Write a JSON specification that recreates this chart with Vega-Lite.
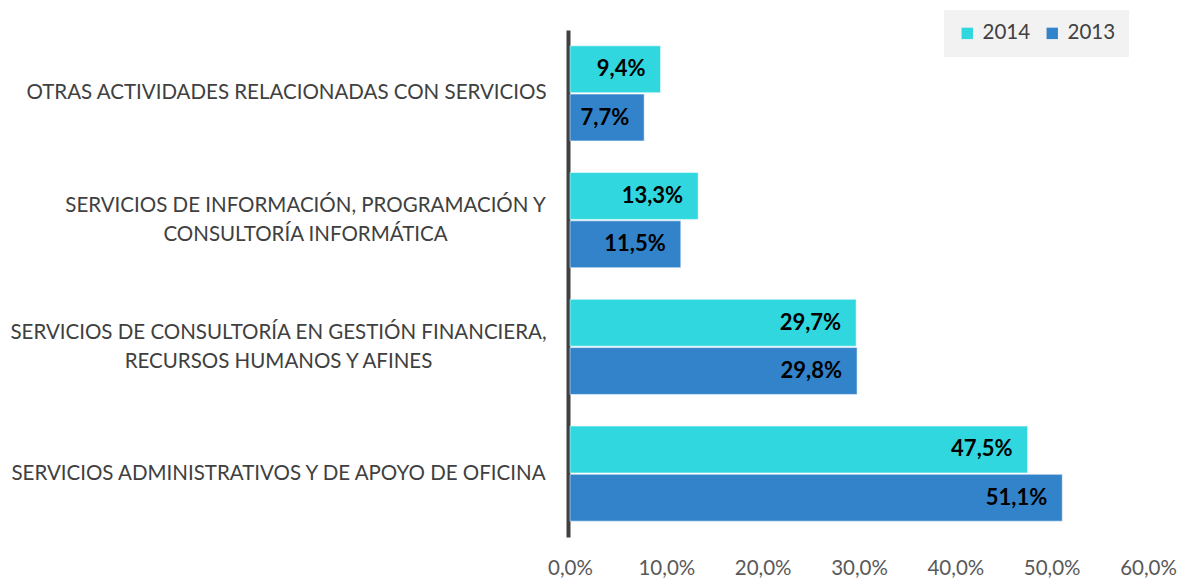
{
  "$schema": "https://vega.github.io/schema/vega-lite/v6.json",
  "width": 578,
  "height": 507,
  "autosize": {"type": "none"},
  "padding": {"left": 570, "top": 30, "right": 34, "bottom": 42},
  "background": "white",
  "config": {
    "locale": {"number": {"decimal": ",", "thousands": ".", "grouping": [3], "currency": ["", " €"]}},
    "view": {"stroke": null},
    "font": "Lato"
  },
  "data": {
    "values": [
      {"sector": "OTRAS ACTIVIDADES RELACIONADAS CON SERVICIOS", "year": "2014", "value": 0.094},
      {"sector": "OTRAS ACTIVIDADES RELACIONADAS CON SERVICIOS", "year": "2013", "value": 0.077},
      {"sector": "SERVICIOS DE INFORMACIÓN, PROGRAMACIÓN Y|CONSULTORÍA INFORMÁTICA", "year": "2014", "value": 0.133},
      {"sector": "SERVICIOS DE INFORMACIÓN, PROGRAMACIÓN Y|CONSULTORÍA INFORMÁTICA", "year": "2013", "value": 0.115},
      {"sector": "SERVICIOS DE CONSULTORÍA EN GESTIÓN FINANCIERA,|RECURSOS HUMANOS Y AFINES", "year": "2014", "value": 0.297},
      {"sector": "SERVICIOS DE CONSULTORÍA EN GESTIÓN FINANCIERA,|RECURSOS HUMANOS Y AFINES", "year": "2013", "value": 0.298},
      {"sector": "SERVICIOS ADMINISTRATIVOS Y DE APOYO DE OFICINA", "year": "2014", "value": 0.475},
      {"sector": "SERVICIOS ADMINISTRATIVOS Y DE APOYO DE OFICINA", "year": "2013", "value": 0.511}
    ]
  },
  "encoding": {
    "y": {
      "field": "sector",
      "type": "nominal",
      "sort": null,
      "title": null,
      "scale": {"paddingInner": 0.25, "paddingOuter": 0.125},
      "axis": {
        "labelExpr": "split(datum.label, '|')",
        "labelFontSize": 20.5,
        "labelColor": "#404040",
        "labelLimit": 600,
        "labelAlign": "center",
        "labelBaseline": "middle",
        "labelPadding": {
          "condition": [
            {"test": "test(/OTRAS/, datum.value)", "value": 282},
            {"test": "test(/INFORMACI/, datum.value)", "value": 263}
          ],
          "value": 290
        },
        "labelOffset": {
          "condition": {"test": "test(/[|]/, datum.value)", "value": -14},
          "value": 0
        },
        "labelLineHeight": 29,
        "ticks": false,
        "tickSize": 0,
        "domainColor": "#404040",
        "domainWidth": 4,
        "offset": 2,
        "grid": false
      }
    },
    "yOffset": {"field": "year", "type": "nominal", "sort": ["2014", "2013"], "scale": {"paddingInner": 0.03}},
    "x": {
      "field": "value",
      "type": "quantitative",
      "title": null,
      "scale": {"domain": [0, 0.6], "nice": false},
      "axis": {
        "format": ".1%",
        "values": [0, 0.1, 0.2, 0.3, 0.4, 0.5, 0.6],
        "grid": false,
        "domain": false,
        "ticks": false,
        "labelFontSize": 20.5,
        "labelColor": "#595959",
        "labelPadding": 21,
        "labelFlush": false
      }
    }
  },
  "layer": [
    {
      "mark": {"type": "bar", "stroke": "white", "strokeOpacity": 0.5, "strokeWidth": 1},
      "encoding": {
        "color": {
          "field": "year",
          "type": "nominal",
          "sort": ["2014", "2013"],
          "scale": {"domain": ["2014", "2013"], "range": ["#30d7df", "#3383cb"]},
          "legend": {
            "title": null,
            "orient": "none",
            "legendX": 374,
            "legendY": -20,
            "direction": "horizontal",
            "fillColor": "#f2f2f2",
            "padding": 13,
            "symbolType": "square",
            "symbolSize": 130,
            "symbolStrokeWidth": 0,
            "labelFontSize": 20.5,
            "labelColor": "#404040",
            "columnPadding": 11,
            "labelOffset": 5
          }
        }
      }
    },
    {
      "mark": {"type": "text", "align": "right", "dx": -15, "fontSize": 22, "fontWeight": "bold", "color": "black"},
      "encoding": {
        "text": {"field": "value", "type": "quantitative", "format": ".1%"}
      }
    }
  ]
}
